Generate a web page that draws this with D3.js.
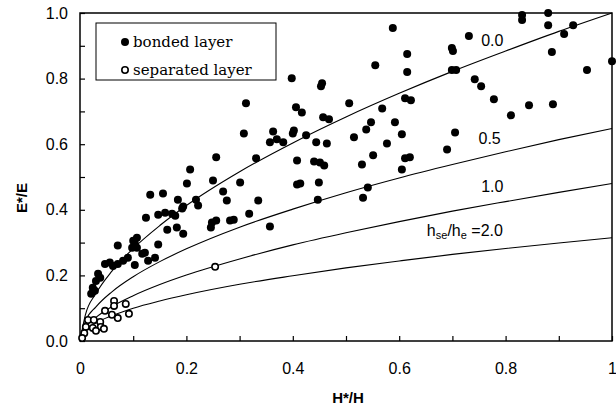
<!DOCTYPE html>
<html>
<head>
<meta charset="utf-8">
<script src="https://cdn.jsdelivr.net/npm/d3@7/dist/d3.min.js"></script>
<style>
body { margin: 0; background: #fff; }
</style>
</head>
<body>
<svg id="svg"></svg>
<script>
var width = 616, height = 407;

// bonded layer (filled dots), H*/H and E*/E
var bondedX = [0.831, 0.831, 0.880, 0.880, 0.927, 0.910, 0.731, 0.699, 0.701, 0.887, 1.000, 0.953, 0.699, 0.707, 0.742, 0.754, 0.778, 0.844, 0.889, 0.810, 0.705, 0.690, 0.555, 0.615, 0.615, 0.588,
	0.398, 0.455, 0.453, 0.506, 0.611, 0.622, 0.406, 0.417, 0.568, 0.457, 0.468, 0.547, 0.592, 0.538, 0.363, 0.402, 0.400, 0.425, 0.370, 0.382, 0.605, 0.515, 0.444, 0.464, 0.577,
	0.408, 0.440, 0.451, 0.459, 0.551, 0.530, 0.611, 0.620, 0.605, 0.408, 0.414, 0.449, 0.541, 0.532, 0.447, 0.357, 0.312, 0.308, 0.357,
	0.256, 0.331, 0.207, 0.250, 0.201, 0.301, 0.132, 0.156, 0.269, 0.184, 0.218, 0.222, 0.276, 0.335, 0.192, 0.194, 0.147, 0.160, 0.173, 0.179, 0.124, 0.318,
	0.256, 0.248, 0.282, 0.289, 0.246, 0.164, 0.182, 0.194, 0.147, 0.107, 0.100, 0.103, 0.098, 0.107, 0.122, 0.117, 0.128, 0.141, 0.103,
	0.071, 0.047, 0.056, 0.062, 0.071, 0.081, 0.090, 0.034, 0.038, 0.030, 0.024, 0.028, 0.021];
var bondedY = [0.994, 0.979, 1.000, 0.963, 0.963, 0.936, 0.930, 0.893, 0.884, 0.881, 0.853, 0.826, 0.826, 0.826, 0.798, 0.777, 0.737, 0.719, 0.722, 0.688, 0.636, 0.584, 0.841, 0.875, 0.820, 0.954,
	0.801, 0.786, 0.777, 0.725, 0.740, 0.734, 0.713, 0.697, 0.709, 0.682, 0.676, 0.667, 0.667, 0.645, 0.639, 0.642, 0.633, 0.627, 0.615, 0.606, 0.630, 0.621, 0.606, 0.602, 0.602,
	0.550, 0.547, 0.544, 0.535, 0.566, 0.538, 0.557, 0.560, 0.523, 0.477, 0.480, 0.483, 0.468, 0.437, 0.431, 0.349, 0.725, 0.633, 0.606,
	0.560, 0.557, 0.523, 0.489, 0.480, 0.483, 0.446, 0.450, 0.456, 0.431, 0.431, 0.413, 0.428, 0.428, 0.404, 0.410, 0.385, 0.391, 0.388, 0.382, 0.376, 0.388,
	0.367, 0.361, 0.367, 0.370, 0.346, 0.339, 0.346, 0.327, 0.294, 0.315, 0.306, 0.297, 0.284, 0.284, 0.269, 0.266, 0.245, 0.254, 0.232,
	0.291, 0.235, 0.239, 0.229, 0.235, 0.245, 0.254, 0.205, 0.193, 0.183, 0.162, 0.153, 0.144];

// separated layer (open circles)
var separatedX = [0.254, 0.064, 0.064, 0.086, 0.092, 0.071, 0.060, 0.047, 0.015, 0.026, 0.038, 0.011, 0.024, 0.039, 0.030, 0.045, 0.008, 0.004];
var separatedY = [0.226, 0.122, 0.107, 0.113, 0.083, 0.070, 0.080, 0.092, 0.064, 0.064, 0.058, 0.043, 0.040, 0.043, 0.031, 0.037, 0.024, 0.009];

// model curves for hse/he = 0.0, 0.5, 1.0, 2.0
var curveX = [0, 0.01, 0.03, 0.06, 0.1, 0.15, 0.2, 0.3, 0.4, 0.5, 0.6, 0.7, 0.8, 0.9, 1.0];
var curve00 = [0, 0.079, 0.145, 0.213, 0.282, 0.352, 0.413, 0.516, 0.604, 0.683, 0.755, 0.822, 0.884, 0.944, 1.0];
var curve05 = [0, 0.059, 0.104, 0.150, 0.196, 0.242, 0.281, 0.347, 0.402, 0.452, 0.497, 0.538, 0.577, 0.614, 0.648];
var curve10 = [0, 0.040, 0.072, 0.105, 0.138, 0.172, 0.201, 0.250, 0.293, 0.330, 0.364, 0.396, 0.425, 0.453, 0.480];
var curve20 = [0, 0.032, 0.055, 0.077, 0.100, 0.122, 0.141, 0.173, 0.199, 0.223, 0.244, 0.264, 0.282, 0.299, 0.315];

var xTickLabels = ["0", "0.2", "0.4", "0.6", "0.8", "1"];
var yTickLabels = ["0.0", "0.2", "0.4", "0.6", "0.8", "1.0"];
var labelTicks = [0, 0.2, 0.4, 0.6, 0.8, 1.0];
var minorTicks = [0, 0.1, 0.2, 0.3, 0.4, 0.5, 0.6, 0.7, 0.8, 0.9, 1.0];

var sans = "'Liberation Sans', Arial, sans-serif";
var serif = "'DejaVu Serif', serif";

var svg = d3.select("#svg")
	.attr("width", width)
	.attr("height", height)
	.style("font-family", sans);

var x = d3.scaleLinear().domain([0, 1]).range([80, 612]);
var y = d3.scaleLinear().domain([0, 1]).range([341, 13]);

// frame
svg.append("rect")
	.attr("x", x(0)).attr("y", y(1))
	.attr("width", x(1) - x(0)).attr("height", y(0) - y(1))
	.attr("fill", "none").attr("stroke", "#000").attr("stroke-width", 1.5);

// inward ticks
svg.append("g")
	.attr("transform", "translate(0," + y(0) + ")")
	.call(d3.axisBottom(x).tickValues(minorTicks).tickSize(-5).tickFormat(""))
	.call(function(g) { g.select(".domain").remove(); })
	.selectAll("line").attr("stroke-width", 1.2);

svg.append("g")
	.attr("transform", "translate(" + x(0) + ",0)")
	.call(d3.axisLeft(y).tickValues(minorTicks).tickSize(-5).tickFormat(""))
	.call(function(g) { g.select(".domain").remove(); })
	.selectAll("line").attr("stroke-width", 1.2);

// tick labels
var xl = svg.append("g")
	.attr("transform", "translate(0," + y(0) + ")")
	.call(d3.axisBottom(x).tickValues(labelTicks).tickSize(0).tickPadding(22)
		.tickFormat(function(d, i) { return xTickLabels[i]; }));
xl.select(".domain").remove();
xl.selectAll("text").style("font-family", sans).style("font-size", "16px").attr("fill", "#000");

var yl = svg.append("g")
	.attr("transform", "translate(" + x(0) + ",0)")
	.call(d3.axisLeft(y).tickValues(labelTicks).tickSize(0).tickPadding(12)
		.tickFormat(function(d, i) { return yTickLabels[i]; }));
yl.select(".domain").remove();
yl.selectAll("text").style("font-family", sans).style("font-size", "16px").attr("fill", "#000");

// axis titles
svg.append("text")
	.attr("transform", "translate(27,198) rotate(-90)")
	.attr("text-anchor", "middle")
	.style("font-size", "15px").style("font-weight", "bold")
	.text("E*/E");

svg.append("text")
	.attr("x", 348).attr("y", 403)
	.attr("text-anchor", "middle")
	.style("font-size", "15px").style("font-weight", "bold")
	.text("H*/H");

// curves
var line = d3.line()
	.x(function(d) { return x(d[0]); })
	.y(function(d) { return y(d[1]); })
	.curve(d3.curveMonotoneX);

[curve00, curve05, curve10, curve20].forEach(function(c) {
	svg.append("path")
		.datum(curveX.map(function(v, i) { return [v, c[i]]; }))
		.attr("d", line)
		.attr("fill", "none")
		.attr("stroke", "#000")
		.attr("stroke-width", 1.1);
});

// curve labels
svg.append("text").attr("x", x(0.775)).attr("y", y(0.9)).attr("text-anchor", "middle").style("font-size", "16px").text("0.0");
svg.append("text").attr("x", x(0.77)).attr("y", y(0.6)).attr("text-anchor", "middle").style("font-size", "16px").text("0.5");
svg.append("text").attr("x", x(0.775)).attr("y", y(0.455)).attr("text-anchor", "middle").style("font-size", "16px").text("1.0");
var hl = svg.append("text").attr("x", x(0.652)).attr("y", y(0.32)).style("font-size", "16px");
hl.append("tspan").text("h");
hl.append("tspan").style("font-size", "11px").attr("dy", 3).text("se");
hl.append("tspan").attr("dy", -3).text("/h");
hl.append("tspan").style("font-size", "11px").attr("dy", 3).text("e");
hl.append("tspan").attr("dy", -3).text(" =2.0");

// points
svg.append("g").selectAll("circle")
	.data(bondedX.map(function(v, i) { return [v, bondedY[i]]; }))
	.enter().append("circle")
	.attr("cx", function(d) { return x(d[0]); })
	.attr("cy", function(d) { return y(d[1]); })
	.attr("r", 4)
	.attr("fill", "#000");

svg.append("g").selectAll("circle")
	.data(separatedX.map(function(v, i) { return [v, separatedY[i]]; }))
	.enter().append("circle")
	.attr("cx", function(d) { return x(d[0]); })
	.attr("cy", function(d) { return y(d[1]); })
	.attr("r", 3.2)
	.attr("fill", "#fff")
	.attr("stroke", "#000")
	.attr("stroke-width", 1.6);

// legend
var lg = svg.append("g");
lg.append("rect")
	.attr("x", 96).attr("y", 23).attr("width", 180).attr("height", 57)
	.attr("fill", "#fff").attr("stroke", "#000").attr("stroke-width", 1);
lg.append("circle").attr("cx", 125).attr("cy", 42).attr("r", 4).attr("fill", "#000");
lg.append("circle").attr("cx", 125).attr("cy", 70).attr("r", 3.2).attr("fill", "#fff").attr("stroke", "#000").attr("stroke-width", 1.6);
lg.append("text").attr("x", 133).attr("y", 47).style("font-family", serif).style("font-size", "15px").text("bonded layer");
lg.append("text").attr("x", 133).attr("y", 75).style("font-family", serif).style("font-size", "15px").text("separated layer");
</script>
</body>
</html>
